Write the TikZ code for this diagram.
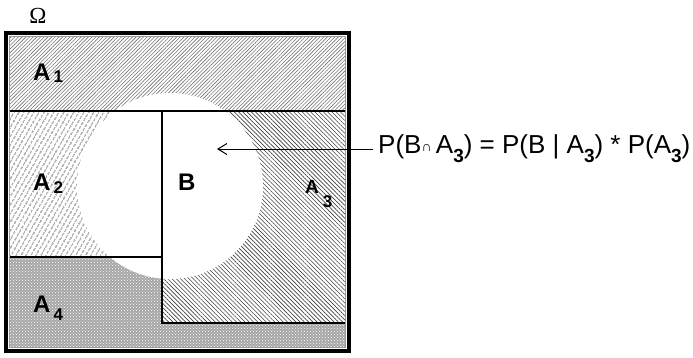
\documentclass[tikz,border=0pt]{standalone}
\usepackage{fontspec}
\setmainfont{Liberation Sans}
\newfontfamily\omegafont{Liberation Serif}
\newfontfamily\boldsans{Liberation Sans Bold}
\usetikzlibrary{patterns,patterns.meta,arrows.meta}
\tikzset{
  lbl/.style={anchor=base west,inner sep=0pt,font=\boldsans\fontsize{24}{24}\selectfont},
  frameline/.style={line width=2.8pt,line join=miter},
  thinline/.style={line width=1.3pt},
}
\newcommand{\subsc}[2]{\raisebox{-#1pt}{\boldsans\fontsize{17}{17}\selectfont #2}}
\newcommand{\eqsub}[1]{\raisebox{-9pt}{\boldsans\fontsize{19}{19}\selectfont #1}}
\begin{document}
\begin{tikzpicture}[x=1pt,y=-1pt]
\useasboundingbox (0,0) rectangle (693,357);
% regions
\fill[pattern={Lines[angle=45,distance=2.6pt,line width=0.6pt]},pattern color=black!55] (10,37) rectangle (345,111);
\fill[pattern={Lines[angle=60,distance=4pt,line width=0.9pt]},pattern color=black!85] (10,111) rectangle (162,257);
\fill[pattern={Lines[angle=-45,distance=3pt,line width=0.6pt]},pattern color=black!75] (162,111) rectangle (345,323);
\fill[black!35] (10,257) -- (162,257) -- (162,323) -- (345,323) -- (345,347) -- (10,347) -- cycle;
\fill[pattern=crosshatch dots,pattern color=white] (10,257) -- (162,257) -- (162,323) -- (345,323) -- (345,347) -- (10,347) -- cycle;
% circle B
\fill[white] (170,186) circle[radius=93];
% boundaries
\draw[line width=4.5pt] (6,33) rectangle (349,351);
\draw[black!40,line width=0.6pt] (9.5,36.5) rectangle (345.5,347.5);
\draw[frameline] (10,111) -- (345,111);
\draw[frameline] (162,111) -- (162,323) -- (345,323);
\draw[frameline] (10,257) -- (108,257);
\draw[thinline] (108,257) -- (162,257);
% labels
\node[anchor=center,inner sep=0pt,font=\omegafont\fontsize{23}{23}\selectfont] (omega) at (38,16) {Ω};
\node[lbl] (a1) at (33,80) {A\hspace{3pt}\subsc{2}{1}};
\node[lbl] (a2) at (33,190) {A\hspace{3pt}\subsc{3}{2}};
\node[lbl] (b) at (178,190) {B};
\node[lbl,font=\boldsans\fontsize{19}{19}\selectfont] (a3) at (305,193) {A\hspace{4pt}\subsc{14}{3}};
\node[lbl] (a4) at (33,312) {A\hspace{3pt}\subsc{8}{4}};
\node[anchor=base west,inner sep=0pt,font=\fontsize{26}{26}\selectfont] (eq) at (378,153)
  {P(B{\fontsize{14}{14}\selectfont\raisebox{2pt}{∩}}\,A\eqsub{3}) = P(B | A\eqsub{3}) * P(A\eqsub{3})};
\coordinate (tip) at (217,149);
\draw[line width=1pt,-{Straight Barb[length=9pt,width=11pt]}] (eq.west |- tip) ++(-5,0) -- (tip);
\end{tikzpicture}
\end{document}
